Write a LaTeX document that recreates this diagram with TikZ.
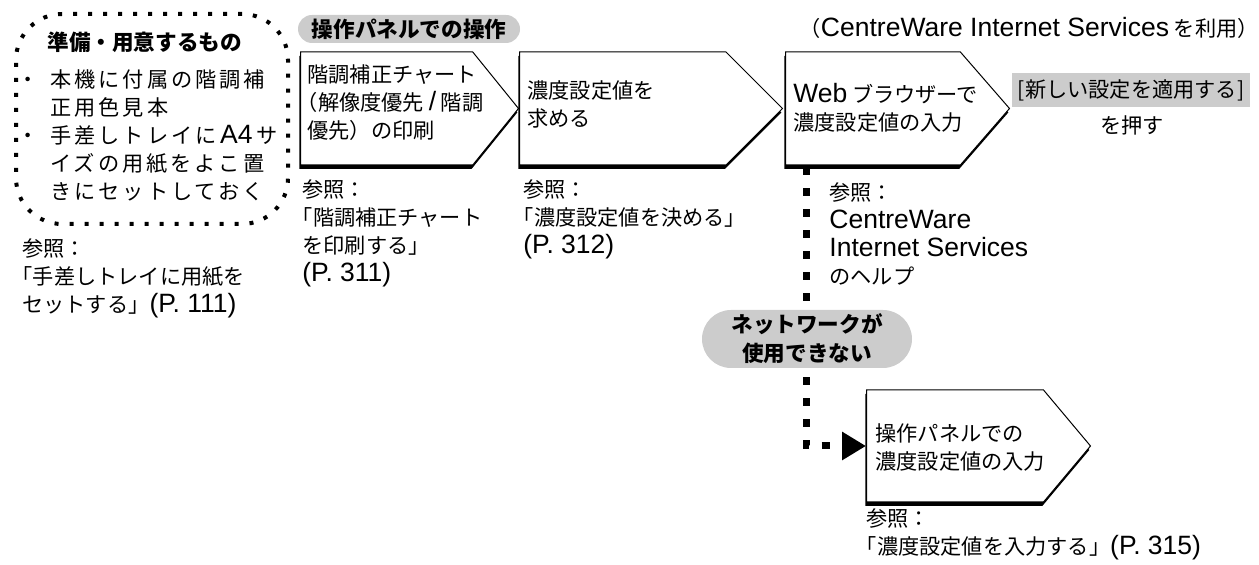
\documentclass[tikz,border=0pt]{standalone}
\usepackage{fontspec}
\setmainfont{Noto Sans CJK JP}
\newfontfamily\widejp[LetterSpace=14]{Noto Sans CJK JP}
\newfontfamily\latinsans[Scale=1.25]{Liberation Sans}
\newcommand{\lsans}[1]{{\latinsans #1}}
\usepackage{tikz}
\usetikzlibrary{shapes.symbols, shapes.misc, shadows, arrows.meta, positioning}
\definecolor{pillgray}{RGB}{204,204,204}
\definecolor{mydark}{RGB}{0,0,0}
\tikzset{
  jptext/.style={font=\fontsize{10.6}{14}\selectfont, inner sep=0pt, align=left, anchor=west},
  boldtext/.style={font=\fontsize{10.8}{14.4}\selectfont\bfseries, inner sep=0pt, align=center},
  stepbox/.style={signal, signal to=east, draw=mydark, fill=white, line width=0.5pt,
    minimum height=56.5pt, inner sep=0pt, anchor=west,
    drop shadow={shadow xshift=-0.6pt, shadow yshift=-2pt, fill=mydark, opacity=1}},
  pill/.style={rounded rectangle, fill=pillgray, boldtext},
  prepbox/.style={draw=mydark, line width=2pt, dash pattern=on 2pt off 5.5pt,
    rounded corners=23pt, minimum width=136pt, minimum height=105pt},
  dotline/.style={draw=mydark, line width=3.5pt, dash pattern=on 4pt off 6.5pt}
}
\begin{document}
\begin{tikzpicture}[x=0.5pt, y=-0.5pt]
  \useasboundingbox (0,0) rectangle (1259,565);

  % Preparation
  \node[prepbox] (prep) at (152,119) {};
  \node[boldtext, anchor=west] (preptitle) at (47,42) {準備・用意するもの};
  \node[jptext] (preplist) at (17.4,135) {%
    \makebox[16.3pt][l]{・}{\widejp 本機に付属の階調補}\\
    \hspace*{16.3pt}{\widejp 正用色見本}\\
    \makebox[16.3pt][l]{・}{\widejp 手差しトレイに\,\lsans{A4}\,サ}\\
    \hspace*{16.3pt}{\widejp イズの用紙をよこ置}\\
    \hspace*{16.3pt}{\widejp きにセットしておく}};
  \node[jptext] (ref0) at (22,278.5) {参照：\\\hspace*{-.5em}「手差しトレイに用紙を\\セットする」\lsans{(P. 111)}};

  % Headers
  \node[pill, minimum width=111pt, minimum height=14pt] (panelhead) at (409,29) {操作パネルでの操作};
  \node[jptext, anchor=east] (cwshead) at (1259,28) {（\lsans{CentreWare Internet Services} を利用）};

  % Steps
  \node[stepbox, minimum width=109pt, signal pointer angle=102] (s1) at (300,108.5) {};
  \node[stepbox, minimum width=131.5pt, signal pointer angle=90] (s2) at (519,108.5) {};
  \node[stepbox, minimum width=112pt, signal pointer angle=98] (s3) at (785,108.5) {};
  \node[stepbox, minimum width=112pt, minimum height=56pt, signal pointer angle=100] (s4) at (866,446) {};

  \node[jptext] (t1) at (307,103) {階調補正チャート\\\hspace*{-.5em}（解像度優先 \lsans{/} 階調\\優先）の印刷};
  \node[jptext] (t2) at (527,104) {濃度設定値を\\求める};
  \node[jptext] (t3) at (793,107.5) {\lsans{Web} ブラウザーで\\濃度設定値の入力};
  \node[jptext] (t4) at (875,447.5) {操作パネルでの\\濃度設定値の入力};

  % Apply button
  \node[jptext, anchor=center, fill=pillgray, minimum width=119pt, minimum height=17pt] (apply) at (1131,90) {[新しい設定を適用する]};
  \node[jptext, anchor=center] (press) at (1132,125) {を押す};

  % References
  \node[jptext] (ref1) at (302,233.5) {参照：\\\hspace*{-.5em}「階調補正チャート\\を印刷する」\\\lsans{(P. 311)}};
  \node[jptext] (ref2) at (523,219.5) {参照：\\\hspace*{-.5em}「濃度設定値を決める」\\\lsans{(P. 312)}};
  \node[jptext] (ref3) at (829,234) {参照：\\\lsans{CentreWare}\\\lsans{Internet Services}\\のヘルプ};
  \node[jptext] (ref4) at (866,534.5) {参照：\\\hspace*{-.5em}「濃度設定値を入力する」\lsans{(P. 315)}};

  % Fallback path
  \coordinate (drop) at ([xshift=10.5pt, yshift=-1pt]s3.south west);
  \draw[dotline, -{Triangle[length=12pt, width=13.5pt]}] (drop) |- (s4.west);
  \node[pill, minimum width=105pt, minimum height=29pt] (nonet) at (807,339) {ネットワークが\\使用できない};
\end{tikzpicture}
\end{document}
